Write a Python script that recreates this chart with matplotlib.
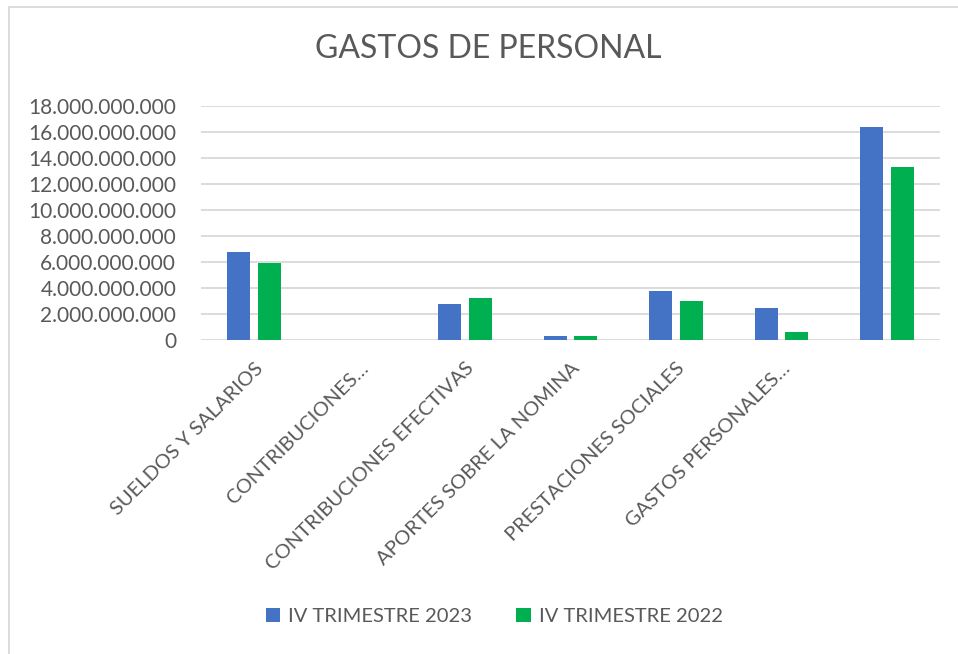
import matplotlib.pyplot as plt
import numpy as np
from matplotlib.ticker import FuncFormatter
from matplotlib.patches import Rectangle

plt.rcParams['font.family'] = ['Lato', 'DejaVu Sans']

# data
categories = ["SUELDOS Y SALARIOS", "CONTRIBUCIONES…", "CONTRIBUCIONES EFECTIVAS",
              "APORTES SOBRE LA NOMINA", "PRESTACIONES SOCIALES", "GASTOS PERSONALES…", ""]
trim_2023 = [6.80e9, 0, 2.75e9, 0.34e9, 3.80e9, 2.46e9, 16.40e9]
trim_2022 = [5.95e9, 0, 3.26e9, 0.28e9, 2.98e9, 0.59e9, 13.30e9]
series_names = ["IV TRIMESTRE 2023", "IV TRIMESTRE 2022"]

text_color = "#595959"

fig = plt.figure(figsize=(9.58, 6.54), dpi=100)
ax = fig.add_axes([0.21, 0.48, 0.771, 0.358])

x = np.arange(len(categories))
w = 0.22
ax.bar(x - 0.145, trim_2023, w, color="#4472C4", label=series_names[0], zorder=3)
ax.bar(x + 0.145, trim_2022, w, color="#00B050", label=series_names[1], zorder=3)

ax.set_xlim(-0.5, len(categories) - 0.5)
ax.set_ylim(0, 18e9)
ax.set_yticks(np.arange(0, 18e9 + 1, 2e9))
ax.yaxis.set_major_formatter(FuncFormatter(lambda v, p: f"{int(v):,}".replace(",", ".")))
ax.grid(axis="y", color="#D9D9D9", linewidth=1.3, zorder=0)
for s in ax.spines.values():
    s.set_visible(False)
ax.tick_params(axis="both", length=0, colors=text_color)
ax.tick_params(axis="y", pad=18, labelsize=15)

ax.set_xticks(x)
ax.set_xticklabels(categories, rotation=45, ha="right", va="top",
                   rotation_mode="anchor", fontsize=14.5, color=text_color)
ax.tick_params(axis="x", pad=14)

fig.text(0.51, 0.925, "GASTOS DE PERSONAL", ha="center", va="center",
         fontsize=23, color=text_color)

fig.legend(loc="center", bbox_to_anchor=(0.516, 0.057), ncol=2, frameon=False,
           fontsize=14.5, labelcolor=text_color, handlelength=0.7, handleheight=0.7,
           columnspacing=2.2, handletextpad=0.4)

# chart border (top and left visible)
fig.patches.append(Rectangle((9 / 958, -0.1), 1.2, 1.1 - 7 / 654, transform=fig.transFigure,
                             fill=False, edgecolor="#D9D9D9", linewidth=1.3))

fig.savefig("out.png", dpi=100)
